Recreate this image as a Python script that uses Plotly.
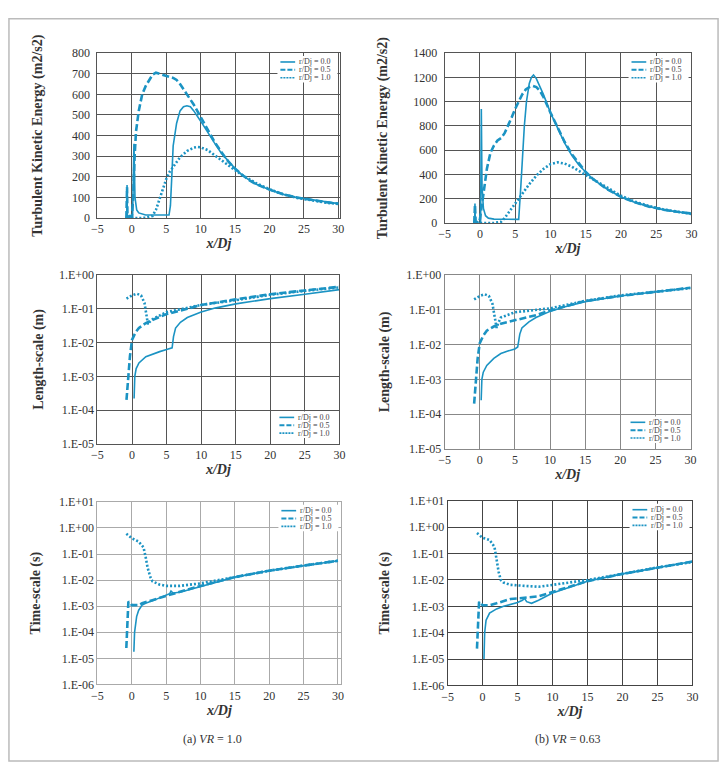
import plotly.graph_objects as go

W, H = 727, 770
COLOR = "#1b93c3"
FONT = "Liberation Serif"
LABELS = ["r/Dj = 0.0", "r/Dj = 0.5", "r/Dj = 1.0"]

# ---------------- Turbulent kinetic energy, VR = 1.0 ----------------
tke_a_x0 = [-0.75, -0.7, -0.65, 0.1, 0.2, 0.3, 0.45, 0.7, 1.0, 2.0, 5.4, 5.6, 5.8, 6.0, 6.5, 7.0, 7.5, 8.0, 8.5, 9.0, 10, 11, 12, 13, 14, 15, 16, 17, 18, 20, 22, 24, 26, 28, 30]
tke_a_y0 = [0, 160, 0, 0, 200, 360, 100, 40, 25, 15, 15, 60, 200, 350, 460, 520, 540, 545, 540, 520, 470, 415, 365, 315, 275, 240, 210, 185, 165, 138, 115, 100, 90, 80, 70]
tke_a_x1 = [-0.8, -0.7, -0.65, -0.5, 0.0, 0.2, 0.4, 0.6, 1.0, 1.5, 2.0, 2.5, 3.0, 3.5, 4.0, 5.0, 6.0, 6.5, 7.0, 8.0, 9.0, 10, 11, 12, 13, 14, 15, 16, 17, 18, 20, 22, 24, 26, 28, 30]
tke_a_y1 = [0, 150, 10, 5, 10, 100, 300, 420, 520, 600, 640, 670, 695, 705, 700, 690, 680, 670, 650, 600, 550, 490, 430, 370, 320, 275, 240, 210, 185, 165, 138, 115, 100, 88, 78, 70]
tke_a_x2 = [-0.8, -0.5, -0.3, 0.0, 1.0, 2.0, 3.0, 3.5, 4.0, 4.5, 5.0, 5.5, 6.0, 7.0, 8.0, 9.0, 9.5, 10, 11, 12, 13, 14, 15, 16, 17, 18, 20, 22, 24, 26, 28, 30]
tke_a_y2 = [0, 15, 5, 0, 0, 2, 10, 40, 90, 140, 190, 225, 250, 295, 325, 342, 345, 343, 330, 305, 280, 255, 232, 210, 190, 170, 140, 115, 98, 86, 76, 68]

# ---------------- Turbulent kinetic energy, VR = 0.63 ----------------
tke_b_x0 = [-0.75, -0.7, -0.65, 0.1, 0.2, 0.3, 0.5, 0.8, 1.2, 2.0, 5.5, 5.8, 6.0, 6.3, 6.6, 7.0, 7.3, 7.6, 8.0, 8.5, 9.0, 10, 11, 12, 13, 14, 15, 16, 17, 18, 20, 22, 24, 26, 28, 30]
tke_b_y0 = [0, 160, 0, 0, 940, 300, 120, 60, 40, 32, 30, 300, 550, 800, 1000, 1150, 1200, 1220, 1190, 1130, 1060, 910, 780, 660, 560, 480, 420, 365, 320, 280, 215, 170, 135, 110, 92, 78]
tke_b_x1 = [-0.8, -0.7, -0.6, -0.3, 0.0, 0.3, 0.6, 1.0, 1.5, 2.0, 2.5, 3.0, 3.5, 4.0, 4.5, 5.0, 5.5, 6.0, 6.5, 7.0, 7.5, 8.0, 8.5, 9.0, 10, 11, 12, 13, 14, 15, 16, 17, 18, 20, 22, 24, 26, 28, 30]
tke_b_y1 = [0, 150, 10, 5, 30, 150, 300, 450, 580, 640, 680, 700, 740, 800, 870, 940, 1000, 1060, 1100, 1120, 1130, 1120, 1090, 1040, 910, 790, 670, 570, 490, 420, 365, 320, 280, 215, 170, 135, 110, 92, 78]
tke_b_x2 = [-0.8, -0.5, -0.3, 0.0, 2.0, 3.0, 3.5, 4.0, 5.0, 6.0, 7.0, 8.0, 9.0, 10, 11, 12, 13, 14, 15, 16, 17, 18, 20, 22, 24, 26, 28, 30]
tke_b_y2 = [0, 20, 5, 0, 0, 10, 40, 80, 170, 250, 320, 390, 445, 485, 500, 490, 465, 430, 395, 360, 325, 290, 225, 175, 140, 112, 92, 75]

# ---------------- Length-scale, VR = 1.0 ----------------
len_a_x0 = [0.3, 0.35, 0.4, 0.6, 1.0, 2.0, 3.0, 4.0, 5.0, 5.8, 6.0, 6.3, 7.0, 8.0, 10, 12, 15, 20, 25, 30]
len_a_y0 = [2.2e-4, 5e-4, 1e-3, 1.7e-3, 2.5e-3, 3.8e-3, 4.6e-3, 5.4e-3, 6.2e-3, 7e-3, 1.5e-2, 2.7e-2, 4e-2, 5.5e-2, 8e-2, 1.05e-1, 1.4e-1, 2e-1, 2.7e-1, 3.7e-1]
len_a_x1 = [-0.8, -0.7, -0.6, -0.3, 0.0, 0.5, 1.0, 2.0, 3.0, 5.0, 8.0, 10, 15, 20, 25, 30]
len_a_y1 = [2e-4, 4e-4, 1e-3, 4e-3, 1.2e-2, 2e-2, 2.7e-2, 3.8e-2, 4.7e-2, 7e-2, 1e-1, 1.3e-1, 1.9e-1, 2.7e-1, 3.5e-1, 4.5e-1]
len_a_x2 = [-0.8, 0.0, 0.7, 1.3, 1.8, 2.1, 2.3, 2.5, 3.0, 5.0, 10, 15, 20, 25, 30]
len_a_y2 = [2e-1, 2.5e-1, 2.8e-1, 2.5e-1, 1.5e-1, 6e-2, 3.5e-2, 4e-2, 5e-2, 8e-2, 1.3e-1, 1.8e-1, 2.6e-1, 3.4e-1, 4.3e-1]

# ---------------- Length-scale, VR = 0.63 ----------------
len_b_x0 = [0.2, 0.25, 0.3, 0.5, 1.0, 2.0, 3.0, 4.0, 5.0, 5.4, 5.7, 6.0, 7.0, 8.0, 10, 12, 15, 20, 25, 30]
len_b_y0 = [2.5e-4, 5e-4, 1e-3, 1.6e-3, 2.5e-3, 4e-3, 5.5e-3, 6.5e-3, 7.5e-3, 8.5e-3, 2e-2, 3e-2, 4.5e-2, 6e-2, 9e-2, 1.2e-1, 1.7e-1, 2.5e-1, 3.3e-1, 4.3e-1]
len_b_x1 = [-0.8, -0.7, -0.6, -0.3, 0.0, 0.5, 1.0, 2.0, 3.0, 5.0, 8.0, 10, 15, 20, 25, 30]
len_b_y1 = [2e-4, 4e-4, 1e-3, 4e-3, 1.1e-2, 1.8e-2, 2.5e-2, 3.3e-2, 4e-2, 5e-2, 7e-2, 9.5e-2, 1.8e-1, 2.5e-1, 3.3e-1, 4.3e-1]
len_b_x2 = [-0.8, 0.0, 0.7, 1.3, 1.8, 2.1, 2.4, 2.6, 3.0, 5.0, 10, 15, 20, 25, 30]
len_b_y2 = [2e-1, 2.5e-1, 2.8e-1, 2.5e-1, 1.5e-1, 6e-2, 3e-2, 4e-2, 6e-2, 8.5e-2, 1.1e-1, 1.8e-1, 2.6e-1, 3.3e-1, 4.2e-1]

# ---------------- Time-scale, VR = 1.0 ----------------
time_a_x0 = [0.3, 0.35, 0.4, 0.7, 1.0, 1.5, 2.0, 3.0, 5.0, 5.5, 5.7, 6.0, 7.0, 8.0, 10, 15, 20, 25, 30]
time_a_y0 = [1.8e-5, 5e-5, 1e-4, 4e-4, 7e-4, 1.1e-3, 1.3e-3, 1.6e-3, 2.5e-3, 3e-3, 3.8e-3, 3.2e-3, 3.4e-3, 4e-3, 5.8e-3, 1.3e-2, 2.3e-2, 3.6e-2, 5.5e-2]
time_a_x1 = [-0.8, -0.6, -0.5, -0.2, 0.0, 0.5, 1.0, 1.5, 2.0, 3.0, 5.0, 10, 15, 20, 25, 30]
time_a_y1 = [2.5e-5, 3e-4, 1.5e-3, 1.3e-3, 1.1e-3, 1.1e-3, 1.1e-3, 1.3e-3, 1.4e-3, 1.7e-3, 2.5e-3, 6e-3, 1.3e-2, 2.3e-2, 3.6e-2, 5.5e-2]
time_a_x2 = [-0.8, 0.0, 1.0, 1.7, 2.0, 2.3, 2.7, 3.0, 4.0, 5.0, 7.0, 10, 15, 20, 25, 30]
time_a_y2 = [6e-1, 4e-1, 3e-1, 1.8e-1, 8e-2, 3e-2, 1.3e-2, 9e-3, 6.8e-3, 6e-3, 6e-3, 7.5e-3, 1.3e-2, 2.3e-2, 3.6e-2, 5.5e-2]

# ---------------- Time-scale, VR = 0.63 ----------------
time_b_x0 = [0.2, 0.25, 0.3, 0.5, 1.0, 2.0, 3.0, 5.0, 5.7, 6.0, 6.3, 7.0, 8.0, 10, 15, 20, 25, 30]
time_b_y0 = [1e-5, 4e-5, 1e-4, 3e-4, 5.5e-4, 8e-4, 1e-3, 1.4e-3, 1.7e-3, 2e-3, 1.5e-3, 1.3e-3, 1.7e-3, 3.2e-3, 9e-3, 1.7e-2, 3e-2, 5e-2]
time_b_x1 = [-0.8, -0.6, -0.5, 0.0, 1.0, 2.0, 3.0, 4.0, 5.0, 6.0, 8.0, 10, 15, 20, 25, 30]
time_b_y1 = [2.5e-5, 5e-4, 1.5e-3, 1.1e-3, 1.1e-3, 1.3e-3, 1.6e-3, 1.9e-3, 2e-3, 2.1e-3, 2.4e-3, 3.5e-3, 9e-3, 1.7e-2, 3e-2, 5e-2]
time_b_x2 = [-0.8, 0.0, 1.0, 1.7, 2.0, 2.3, 2.6, 3.0, 4.0, 6.0, 8.0, 10, 15, 20, 25, 30]
time_b_y2 = [6e-1, 4e-1, 3.3e-1, 1.8e-1, 6e-2, 2e-2, 1e-2, 8e-3, 6.5e-3, 5.8e-3, 5.5e-3, 6.5e-3, 1e-2, 1.7e-2, 3e-2, 4.8e-2]

x_ticks = [-5, 0, 5, 10, 15, 20, 25, 30]
len_ticks = [1e-5, 1e-4, 1e-3, 1e-2, 1e-1, 1e0]
len_ticktext = ["1.E-05", "1.E-04", "1.E-03", "1.E-02", "1.E-01", "1.E+00"]
time_ticks = [1e-6, 1e-5, 1e-4, 1e-3, 1e-2, 1e-1, 1e0, 1e1]
time_ticktext = ["1.E-06", "1.E-05", "1.E-04", "1.E-03", "1.E-02", "1.E-01", "1.E+00", "1.E+01"]
captions = ["(a) <i>VR</i> = 1.0", "(b) <i>VR</i> = 0.63"]

# panel pixel boxes: (left, right, top, bottom)
panels = [
    dict(box=(93, 340, 47, 215), xr=[-5, 30.3], series=[(tke_a_x0, tke_a_y0), (tke_a_x1, tke_a_y1), (tke_a_x2, tke_a_y2)],
         kind="tke", yr=[0, 800], dtick=100, ytitle="Turbulent Kinetic Energy (m2/s2)", grid="#555555", leg="top", so=26),
    dict(box=(446, 697, 47, 220), xr=[-5, 30], series=[(tke_b_x0, tke_b_y0), (tke_b_x1, tke_b_y1), (tke_b_x2, tke_b_y2)],
         kind="tke", yr=[0, 1400], dtick=200, ytitle="Turbulent Kinetic Energy (m2/s2)", grid="#555555", leg="top", so=22),
    dict(box=(93, 339, 273, 445), xr=[-5, 30], series=[(len_a_x0, len_a_y0), (len_a_x1, len_a_y1), (len_a_x2, len_a_y2)],
         kind="len", ytitle="Length-scale (m)", grid="#555555", leg="bottom", so=12),
    dict(box=(446, 696, 273, 450), xr=[-5, 30], series=[(len_b_x0, len_b_y0), (len_b_x1, len_b_y1), (len_b_x2, len_b_y2)],
         kind="len", ytitle="Length-scale (m)", grid="#888888", leg="bottom", so=13),
    dict(box=(93, 341, 504, 690), xr=[-5, 30.5], series=[(time_a_x0, time_a_y0), (time_a_x1, time_a_y1), (time_a_x2, time_a_y2)],
         kind="time", ytitle="Time-scale (s)", grid="#aaaaaa", leg="top", so=15),
    dict(box=(449, 698, 503, 691), xr=[-5, 30], series=[(time_b_x0, time_b_y0), (time_b_x1, time_b_y1), (time_b_x2, time_b_y2)],
         kind="time", ytitle="Time-scale (s)", grid="#444444", leg="top", so=16),
]

styles = [dict(dash="solid", width=1.6), dict(dash="7px,3px", width=2.6), dict(dash="2px,2px", width=2.6)]
leg_styles = [dict(dash="solid", width=1.6), dict(dash="5px,2px", width=2.0), dict(dash="2px,1px", width=1.6)]

fig = go.Figure()
layout = dict(
    width=W, height=H, margin=dict(l=0, r=0, t=0, b=0),
    paper_bgcolor="white", plot_bgcolor="white",
    font=dict(family=FONT, color="#333333", size=11),
    showlegend=False,
)

def px_x(p):
    return p / W

def px_y(p):
    return 1 - p / H

shapes = []
annotations = []

# outer frame
shapes.append(dict(type="rect", xref="paper", yref="paper", x0=px_x(3), x1=px_x(724), y0=px_y(768), y1=px_y(12),
                   line=dict(color="#bbbbbb", width=1.5), fillcolor="rgba(0,0,0,0)", layer="below"))

for i, p in enumerate(panels):
    n = i + 1
    xa = "x" if n == 1 else f"x{n}"
    ya = "y" if n == 1 else f"y{n}"
    l, r, t, b = p["box"]
    for j, (xs, ys) in enumerate(p["series"]):
        fig.add_trace(go.Scatter(
            x=xs, y=ys, mode="lines", name=LABELS[j],
            line=dict(color=COLOR, width=styles[j]["width"], dash=styles[j]["dash"]),
            xaxis=xa, yaxis=ya, hoverinfo="skip",
        ))
    xkey = "xaxis" if n == 1 else f"xaxis{n}"
    ykey = "yaxis" if n == 1 else f"yaxis{n}"
    layout[xkey] = dict(
        domain=[px_x(l), px_x(r)], anchor=ya, range=p["xr"], tickvals=x_ticks,
        showgrid=True, gridcolor=p["grid"], gridwidth=1, zeroline=False,
        showline=True, mirror=True, linecolor=p["grid"], linewidth=1,
        ticks="", tickfont=dict(size=12, family=FONT, color="#333333"),
        title=dict(text="<b><i>x/Dj</i></b>", font=dict(size=14, family=FONT, color="#333333"), standoff=0),
    )
    ybase = dict(
        domain=[px_y(b), px_y(t)], anchor=xa,
        showgrid=True, gridcolor=p["grid"], gridwidth=1, zeroline=False,
        showline=True, mirror=True, linecolor=p["grid"], linewidth=1,
        ticks="", tickfont=dict(size=12, family=FONT, color="#333333"),
        title=dict(text=f"<b>{p['ytitle']}</b>", font=dict(size=14, family=FONT, color="#333333"), standoff=p["so"]),
    )
    if p["kind"] == "tke":
        ybase.update(range=p["yr"], dtick=p["dtick"], tick0=0, ticklabelstandoff=4)
    elif p["kind"] == "len":
        ybase.update(type="log", range=[-5, 0], tickvals=len_ticks, ticktext=len_ticktext)
    else:
        ybase.update(type="log", range=[-6, 1], tickvals=time_ticks, ticktext=time_ticktext)
    layout[ykey] = ybase

    # compact legend box (white background hides grid lines)
    if p["leg"] == "top":
        box_top = t + 3
    else:
        box_top = b - 33
    box_l, box_r = r - 64, r - 3
    shapes.append(dict(type="rect", xref="paper", yref="paper", x0=px_x(box_l), x1=px_x(box_r),
                       y0=px_y(box_top + 27), y1=px_y(box_top), line=dict(width=0), fillcolor="white", layer="above"))
    for j in range(3):
        row_y = box_top + 6 + 8 * j
        shapes.append(dict(type="line", xref="paper", yref="paper", x0=px_x(box_l + 3), x1=px_x(box_l + 18),
                           y0=px_y(row_y), y1=px_y(row_y),
                           line=dict(color=COLOR, width=leg_styles[j]["width"], dash=leg_styles[j]["dash"]), layer="above"))
        annotations.append(dict(x=px_x(box_l + 20), y=px_y(row_y), xref="paper", yref="paper", text=LABELS[j],
                                showarrow=False, xanchor="left", yanchor="middle",
                                font=dict(size=8, family=FONT, color="#444444")))

for cx, txt in zip([210, 571], captions):
    annotations.append(dict(x=px_x(cx), y=px_y(746), xref="paper", yref="paper", text=txt, showarrow=False,
                            font=dict(size=12, family=FONT, color="#333333"), xanchor="center", yanchor="middle"))

layout["shapes"] = shapes
layout["annotations"] = annotations
fig.update_layout(**layout)

fig.write_html("out.html")
